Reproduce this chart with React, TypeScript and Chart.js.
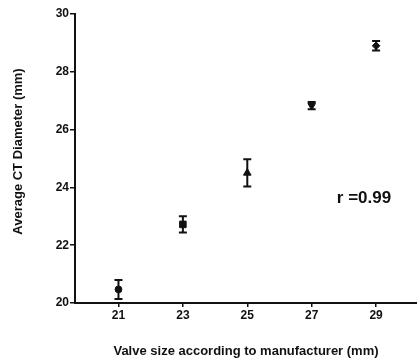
import React, { useEffect, useRef } from "react";
import { Chart, registerables } from "chart.js";

Chart.register(...registerables);

const VALVE_SIZES = [21, 23, 25, 27, 29];
const CT_MEANS = [20.47, 22.72, 24.5, 26.83, 28.9];
const CT_ERRORS = [0.33, 0.28, 0.47, 0.125, 0.165];
const X_TICKS = [21, 23, 25, 27, 29];
const Y_TICKS = [20, 22, 24, 26, 28, 30];
const POINT_STYLES = ["circle", "rect", "triangle", "triangle", "rectRot"];
const POINT_ROTATIONS = [0, 0, 0, 180, 0];
const POINT_RADII = [3.4, 4.6, 4.4, 4.4, 3.8];
const R_LABEL = "r =0.99";
const R_LABEL_POS = { x: 27.78, y: 23.47 };
const X_TITLE = "Valve size according to manufacturer (mm)";
const Y_TITLE = "Average CT Diameter (mm)";

const INK = "#111111";

const errorBarPlugin = {
  id: "errorBars",
  beforeDatasetsDraw(chart: any) {
    const { ctx, scales } = chart;
    const xs = scales.x;
    const ys = scales.y;
    ctx.save();
    ctx.strokeStyle = INK;
    ctx.lineWidth = 2;
    const cap = 4;
    VALVE_SIZES.forEach((v, i) => {
      const px = xs.getPixelForValue(v);
      const top = ys.getPixelForValue(CT_MEANS[i] + CT_ERRORS[i]);
      const bot = ys.getPixelForValue(CT_MEANS[i] - CT_ERRORS[i]);
      ctx.beginPath();
      ctx.moveTo(px, top);
      ctx.lineTo(px, bot);
      ctx.moveTo(px - cap, top);
      ctx.lineTo(px + cap, top);
      ctx.moveTo(px - cap, bot);
      ctx.lineTo(px + cap, bot);
      ctx.stroke();
    });
    ctx.restore();
  },
  afterDraw(chart: any) {
    const { ctx, scales, chartArea } = chart;
    ctx.save();
    ctx.fillStyle = INK;
    ctx.font = "bold 17px 'Liberation Sans', Arial, sans-serif";
    ctx.textAlign = "left";
    ctx.textBaseline = "alphabetic";
    ctx.fillText(R_LABEL, scales.x.getPixelForValue(R_LABEL_POS.x), scales.y.getPixelForValue(R_LABEL_POS.y));
    ctx.font = "bold 13px 'Liberation Sans', Arial, sans-serif";
    ctx.textAlign = "center";
    ctx.textBaseline = "middle";
    ctx.translate(18, chartArea.top + (chartArea.bottom - chartArea.top) / 2 - 7);
    ctx.rotate(-Math.PI / 2);
    ctx.fillText(Y_TITLE, 0, 0);
    ctx.restore();
  },
};

export default function App() {
  const ref = useRef<HTMLCanvasElement | null>(null);
  useEffect(() => {
    if (!ref.current) return;
    const chart = new Chart(ref.current, {
      type: "scatter",
      data: {
        datasets: [
          {
            data: VALVE_SIZES.map((x, i) => ({ x, y: CT_MEANS[i] })),
            backgroundColor: INK,
            borderColor: INK,
            borderWidth: 1,
            pointStyle: POINT_STYLES as any,
            rotation: POINT_ROTATIONS,
            pointRadius: POINT_RADII,
          },
        ],
      },
      plugins: [errorBarPlugin],
      options: {
        responsive: false,
        animation: false,
        events: [],
        layout: { autoPadding: false, padding: { top: 14, right: 0, bottom: 0, left: 0 } },
        plugins: { legend: { display: false }, tooltip: { enabled: false } },
        scales: {
          x: {
            type: "linear",
            min: 19.65,
            max: 30.27,
            afterBuildTicks: (s: any) => {
              s.ticks = X_TICKS.map((v) => ({ value: v }));
            },
            afterFit: (s: any) => {
              s.height = 58;
              s.paddingLeft = 0;
              s.paddingRight = 0;
            },
            border: { display: true, color: INK, width: 2 },
            grid: { drawOnChartArea: false, tickLength: 4, color: INK, lineWidth: 1.5 },
            ticks: {
              color: INK,
              padding: 1,
              autoSkip: false,
              maxRotation: 0,
              font: { family: "'Liberation Sans', Arial, sans-serif", size: 12, weight: "bold" },
            },
            title: {
              display: true,
              text: X_TITLE,
              color: INK,
              padding: { top: 0, bottom: 2 },
              font: { family: "'Liberation Sans', Arial, sans-serif", size: 13, weight: "bold" },
            },
          },
          y: {
            type: "linear",
            min: 20,
            max: 30,
            afterBuildTicks: (s: any) => {
              s.ticks = Y_TICKS.map((v) => ({ value: v }));
            },
            afterFit: (s: any) => {
              s.width = 75;
              s.paddingTop = 0;
              s.paddingBottom = 0;
            },
            border: { display: true, color: INK, width: 2 },
            grid: { drawOnChartArea: false, tickLength: 5, color: INK, lineWidth: 1.5 },
            ticks: {
              color: INK,
              padding: 1,
              font: { family: "'Liberation Sans', Arial, sans-serif", size: 12, weight: "bold" },
            },
          },
        },
      },
    });
    return () => chart.destroy();
  }, []);
  return (
    <div style={{ position: "absolute", left: 0, top: 0, width: 417, height: 361, background: "#fff" }}>
      <canvas ref={ref} width={417} height={361} style={{ display: "block" }} />
    </div>
  );
}
